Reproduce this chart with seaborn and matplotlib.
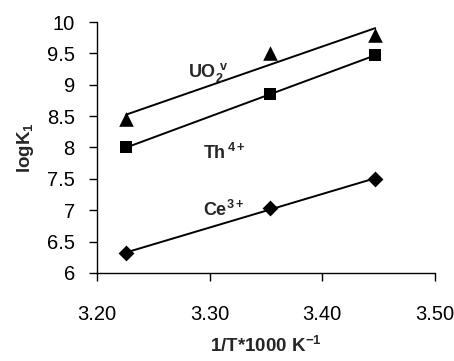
import pandas as pd
import seaborn as sns
import matplotlib.pyplot as plt

# 1/T*1000 values and logK1 for each ion
inv_t = [3.226, 3.354, 3.447]
uo2 = [8.45, 9.50, 9.80]
th = [8.00, 8.85, 9.47]
ce = [6.32, 7.03, 7.50]

sns.set_style("white")
plt.rcParams["font.family"] = ["Liberation Sans", "DejaVu Sans"]
plt.rcParams["mathtext.fontset"] = "custom"
plt.rcParams["mathtext.rm"] = "Liberation Sans"
plt.rcParams["mathtext.bf"] = "Liberation Sans:bold"

data = pd.DataFrame({"x": inv_t, "UO2": uo2, "Th": th, "Ce": ce})

fig = plt.figure(figsize=(4.54, 3.61), dpi=100)
ax = fig.add_axes([0.2137, 0.244, 0.7443, 0.695])

for col, mk, sz in [("UO2", "^", 110), ("Th", "s", 80), ("Ce", "D", 65)]:
    sns.regplot(data=data, x="x", y=col, ax=ax, ci=None, color="black",
                marker=mk, scatter_kws={"s": sz, "alpha": 1, "linewidths": 0},
                line_kws={"linewidth": 1.4})

ax.text(3.281, 9.2, r"UO$_{\mathbf{2}}^{\mathbf{\ v}}$", fontsize=13, fontweight="bold", ha="left", va="center")
ax.text(3.294, 7.92, r"Th$^{\mathbf{\,4+}}$", fontsize=13, fontweight="bold", ha="left", va="center")
ax.text(3.294, 7.0, r"Ce$^{\mathbf{3+}}$", fontsize=13, fontweight="bold", ha="left", va="center")

ax.set_xlim(3.20, 3.50)
ax.set_ylim(6, 10)
ax.set_xticks([3.20, 3.30, 3.40, 3.50])
ax.set_xticklabels(["3.20", "3.30", "3.40", "3.50"])
ax.set_yticks([6, 6.5, 7, 7.5, 8, 8.5, 9, 9.5, 10])
ax.set_yticklabels(["6", "6.5", "7", "7.5", "8", "8.5", "9", "9.5", "10"])
ax.tick_params(axis="both", direction="out", length=6, width=1, labelsize=14.5,
               left=True, bottom=True, colors="black")
ax.tick_params(axis="x", pad=17)
ax.tick_params(axis="y", pad=10)
sns.despine(ax=ax)
for s in ["left", "bottom"]:
    ax.spines[s].set_color("black")
    ax.spines[s].set_linewidth(1)

ax.set_xlabel(r"1/T*1000 K$^{\mathbf{-1}}$", fontsize=13.5, fontweight="bold", labelpad=8)
ax.set_ylabel(r"logK$_{\mathbf{1}}$", fontsize=13.5, fontweight="bold", labelpad=8)

fig.savefig("out.png", dpi=100)
